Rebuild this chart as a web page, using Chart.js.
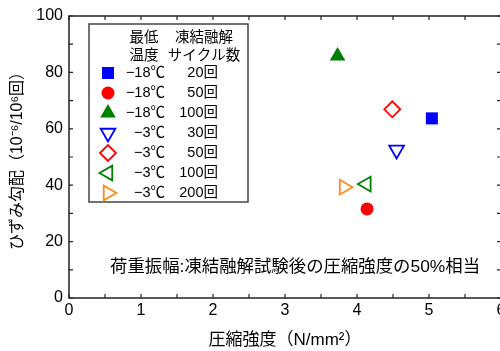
<!DOCTYPE html>
<html>
<head>
<meta charset="utf-8">
<script src="https://cdn.jsdelivr.net/npm/chart.js"></script>
<style>
  html, body { margin: 0; padding: 0; background: #fff; overflow: hidden; }
  #wrap { width: 520px; height: 351px; }
</style>
</head>
<body>
<div id="wrap"><canvas id="chart" width="520" height="351"></canvas></div>
<script>
// data
const minTemps = ['−18℃', '−18℃', '−18℃', '−3℃', '−3℃', '−3℃', '−3℃'];
const cycleCounts = ['20回', '50回', '100回', '30回', '50回', '100回', '200回'];
const compStrength = [5.04, 4.14, 3.73, 4.55, 4.49, 4.13, 3.82];
const strainSlope = [63.7, 31.6, 85.8, 52.5, 66.9, 40.4, 39.3];
const xTickValues = [0, 1, 2, 3, 4, 5, 6];
const yTickValues = [0, 20, 40, 60, 80, 100];

// marker styles, one per series
const markerColors = ['#0000ff', '#ff0000', '#008000', '#0000ff', '#ff0000', '#008000', '#ff8c1a'];
const markerShapes = ['rect', 'circle', 'triangle', 'triangle', 'rectRot', 'triangle', 'triangle'];
const markerRotation = [0, 0, 0, 180, 0, -90, 90];
const markerFilled = [true, true, true, false, false, false, false];
const markerRadius = [8.5, 6.5, 9, 8.5, 8, 8.5, 8.5];

const FONT = "'Liberation Sans', 'Noto Sans CJK JP', sans-serif";
Chart.defaults.font.family = FONT;
Chart.defaults.color = '#000';

const datasets = minTemps.map((t, i) => ({
    label: t + ' ' + cycleCounts[i],
    data: [{ x: compStrength[i], y: strainSlope[i] }],
    pointStyle: markerShapes[i],
    rotation: markerRotation[i],
    radius: markerRadius[i],
    hoverRadius: markerRadius[i],
    borderWidth: markerFilled[i] ? 0 : 1.8,
    borderColor: markerColors[i],
    backgroundColor: markerFilled[i] ? markerColors[i] : 'rgba(0,0,0,0)'
}));

// frame with inward ticks on all four sides
const framePlugin = {
    id: 'frame',
    beforeDatasetsDraw(chart) {
        const { ctx, chartArea: a, scales } = chart;
        ctx.save();
        ctx.strokeStyle = '#222';
        ctx.lineWidth = 1.5;
        ctx.strokeRect(a.left, a.top, a.right - a.left, a.bottom - a.top);
        ctx.lineWidth = 1.2;
        ctx.beginPath();
        for (let v = 0; v <= 6; v += 0.5) {
            const px = scales.x.getPixelForValue(v);
            ctx.moveTo(px, a.bottom); ctx.lineTo(px, a.bottom - 4);
            ctx.moveTo(px, a.top); ctx.lineTo(px, a.top + 4);
        }
        for (let v = 0; v <= 100; v += 10) {
            const py = scales.y.getPixelForValue(v);
            ctx.moveTo(a.left, py); ctx.lineTo(a.left + 4, py);
            ctx.moveTo(a.right, py); ctx.lineTo(a.right - 4, py);
        }
        ctx.stroke();
        ctx.restore();
    }
};

// boxed legend with two column headers, plus the note
const legendPlugin = {
    id: 'boxLegend',
    afterDraw(chart) {
        const ctx = chart.ctx;
        ctx.save();
        ctx.fillStyle = '#fff';
        ctx.fillRect(89, 24, 159, 178);
        ctx.strokeStyle = '#444';
        ctx.lineWidth = 1.5;
        ctx.strokeRect(89, 24, 159, 178);

        ctx.fillStyle = '#000';
        ctx.font = '14.5px ' + FONT;
        ctx.textAlign = 'center';
        ctx.textBaseline = 'middle';
        ctx.fillText('最低', 144, 38);
        ctx.fillText('温度', 144, 56);
        ctx.fillText('凍結融解', 204, 38);
        ctx.fillText('サイクル数', 204, 56);

        ctx.font = '14.5px ' + FONT;
        chart.data.datasets.forEach((ds, i) => {
            const y = 73 + i * 20;
            ctx.fillStyle = ds.backgroundColor;
            ctx.strokeStyle = ds.borderColor;
            ctx.lineWidth = ds.borderWidth;
            Chart.helpers.drawPoint(ctx, {
                pointStyle: ds.pointStyle,
                rotation: ds.rotation,
                radius: ds.radius,
                borderWidth: ds.borderWidth
            }, 108, y);
            ctx.fillStyle = '#000';
            ctx.textAlign = 'right';
            ctx.fillText(minTemps[i], 165, y);
            ctx.fillText(cycleCounts[i], 218, y);
        });

        ctx.font = '17.4px ' + FONT;
        ctx.textAlign = 'left';
        ctx.fillText('荷重振幅:凍結融解試験後の圧縮強度の50%相当', 110, 267);
        ctx.restore();
    }
};

new Chart(document.getElementById('chart'), {
    type: 'scatter',
    data: { datasets },
    options: {
        responsive: false,
        animation: false,
        layout: { padding: { left: 0, right: 19, top: 16, bottom: 0 } },
        plugins: { legend: { display: false }, tooltip: { enabled: false } },
        scales: {
            x: {
                type: 'linear',
                min: 0,
                max: 6,
                afterBuildTicks: s => { s.ticks = xTickValues.map(v => ({ value: v })); },
                afterFit: s => { s.height = 53; },
                grid: { display: false, drawTicks: false },
                border: { display: false },
                ticks: { font: { size: 16 }, padding: 3, maxRotation: 0 },
                title: {
                    display: true,
                    text: '圧縮強度（N/mm²）',
                    font: { size: 17 },
                    padding: 0
                }
            },
            y: {
                type: 'linear',
                min: 0,
                max: 100,
                afterBuildTicks: s => { s.ticks = yTickValues.map(v => ({ value: v })); },
                afterFit: s => { s.width = 69; },
                grid: { display: false, drawTicks: false },
                border: { display: false },
                ticks: { font: { size: 16 }, padding: 6 },
                title: {
                    display: true,
                    text: 'ひずみ勾配（10⁻⁶/10⁶回）',
                    font: { size: 16 },
                    padding: { top: 8, bottom: 0 }
                }
            }
        }
    },
    plugins: [framePlugin, legendPlugin]
});
</script>
</body>
</html>
